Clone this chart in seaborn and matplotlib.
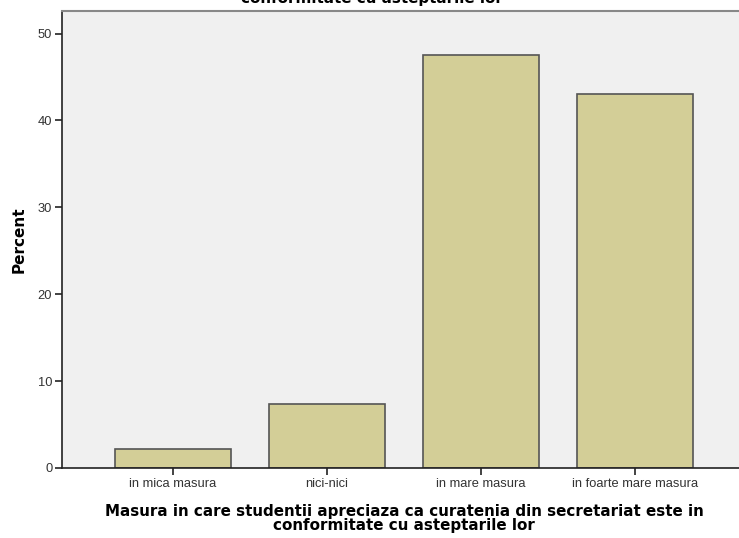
import matplotlib
matplotlib.use("Agg")
import matplotlib.pyplot as plt
import seaborn as sns
import pandas as pd

categories = ["in mica masura", "nici-nici", "in mare masura", "in foarte mare masura"]
percent = [2.2, 7.4, 47.5, 43.0]
y_ticks = [0, 10, 20, 30, 40, 50]
label_text = ("Masura in care studentii apreciaza ca curatenia din secretariat este in\n"
              "conformitate cu asteptarile lor")

sns.set_style("white")
plt.rcParams['font.family'] = ['Liberation Sans', 'DejaVu Sans']

df = pd.DataFrame({"cat": categories, "pct": percent})

fig = plt.figure(figsize=(7.39, 5.38), dpi=100)
ax = fig.add_axes([62 / 739, 70 / 538, 684 / 739, 457 / 538])
ax.set_facecolor("#F0F0F0")

sns.barplot(data=df, x="cat", y="pct", color="#D3CE97", saturation=1,
            width=0.75, edgecolor="#555555", linewidth=1.2, ax=ax)

ax.set_xlim(-0.72, 3.72)
ax.set_ylim(0, 52.6)
ax.set_yticks(y_ticks)
ax.tick_params(axis="both", direction="out", length=5, width=1.2, color="#222222",
               labelsize=9.3, labelcolor="#333333", pad=2, left=True, bottom=True)

for s in ["left", "bottom"]:
    ax.spines[s].set_color("#222222")
    ax.spines[s].set_linewidth(1.2)
ax.spines["top"].set_color("#888888")
ax.spines["top"].set_linewidth(1.5)
ax.spines["right"].set_visible(False)

bold = dict(family="DejaVu Sans", fontweight="bold", color="black")
ax.set_ylabel("Percent", fontsize=11, labelpad=8, **bold)
ax.set_xlabel(label_text, fontsize=10.9, linespacing=0.97, labelpad=10, **bold)

# title cut off at the top of the image
fig.text(372 / 739, 1 - 3 / 538, label_text, ha="center", va="baseline",
         fontsize=10.9, linespacing=0.97, multialignment="center", **bold)

fig.savefig("out.png", dpi=100)
